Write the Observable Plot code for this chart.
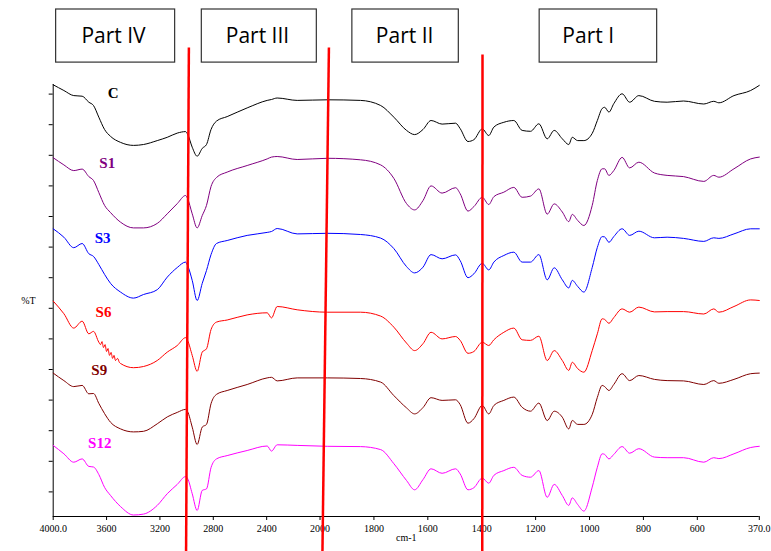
<!DOCTYPE html>
<html><head><meta charset="utf-8">
<script src="https://cdn.jsdelivr.net/npm/d3@7"></script>
<script src="https://cdn.jsdelivr.net/npm/@observablehq/plot@0.6"></script>
<style>html,body{margin:0;padding:0;background:#fff;} #chart svg{display:block}</style>
</head><body><div id="chart"></div>
<script>
// Wavenumber grid (cm-1) shared by all spectra
const wavenumbers = [4000, 3920, 3846, 3783, 3733, 3698, 3658, 3615, 3570, 3495, 3398, 3323, 3220, 3145, 3070, 3008, 2993, 2958, 2921, 2883, 2851, 2817, 2776, 2696, 2546, 2396, 2364, 2321, 2171, 1973, 1850, 1775, 1726, 1679, 1649, 1618, 1588, 1547, 1497, 1480, 1451, 1429, 1398, 1374, 1355, 1318, 1281, 1250, 1219, 1188, 1157, 1131, 1101, 1077, 1064, 1044, 1021, 990, 971, 953, 944, 928, 910, 879, 851, 817, 759, 712, 651, 576, 539, 520, 464, 402, 370];

// %T values (stacked, arbitrary offset units)
const valuesC  = [143.9,142,140.3,140.1,138.1,137,133.1,129,126.7,124.7,123.7,124,125.3,126.4,127.8,128.3,127.5,123.1,120.1,122.7,124,129,131.8,133.3,136.2,138.7,139,139.5,138.7,138.9,138.7,137,133.1,128.7,127.3,129,132,130.8,131.1,129.3,125,125.6,129.2,127,129.8,131.4,132,128.7,128.4,130.9,125.9,128.7,125.9,124,126.4,125.3,125.3,127.7,132,136,136.4,134.8,137.6,140.9,138.1,140.3,138.4,138.1,138.5,137.5,138.4,137.9,140.3,142,143.7];
const valuesS1 = [119.6,117.2,115.3,115.8,113.3,112,108,103.7,101.3,98.1,96.2,96.2,97.7,100.9,104.3,107,106,100.9,96.2,100.3,103.7,110,113,114.8,117,119.2,119.8,120,119,119.4,118.9,117.2,112.7,104.3,102.2,105.3,110.2,107.8,109.6,107.6,101.8,103.3,106.4,104,106.6,108.1,109.7,106.4,106.8,109.2,100.8,104.2,101.5,98.3,100.7,98.7,97,103.7,112,115.9,115.9,113.7,115.3,119.7,116.2,118.1,114.5,113.7,113.3,111.7,113.7,113.1,115.9,119.2,119.8];
const valuesS3 = [95.9,93.1,89.6,91,87.6,86.7,84,80.7,77.7,74.8,72.8,74,75.6,79.8,83,84.8,83.7,78.7,72,77.7,82,87.3,91,92,93.7,94.7,95,96,94.2,94.4,94,92.8,89.3,83.3,81.2,83.1,87.3,85.9,87.2,85.3,79.6,80.9,84.4,82.2,84.8,87,88.1,84.8,84.8,87.3,78.9,82.9,78.9,76.2,78.7,76.7,74.8,83,89.7,93.3,93.2,91.4,93.3,95.9,93.7,95.1,92.9,93.1,92.7,91.7,92.9,92.7,94.2,95.9,95.9];
const valuesS6 = [71.8,67.6,62.8,65.1,60.9,61.7,58.1,55.3,53,51,49.6,50,52,54.8,57,59.6,58.7,53.7,48.4,54.8,55.9,62.3,64.8,65.5,67.2,67.9,66.2,70,68.9,68.1,68.1,66.8,63.1,57.8,55.3,57.6,61.4,59.2,60,58.7,54.4,55,58.1,57,58.9,61.4,62.8,58.9,58.7,60.1,52,55.3,52,48.7,51.4,49.3,48.1,55.3,60.9,65.9,65.7,64.4,66.3,69.2,68.1,69.8,68.2,68.3,68.3,67.5,69.2,68.1,70,72.2,72];
const valuesS9 = [47.8,45.3,43.3,43.7,40.9,41,37.7,34.3,31.4,29.2,28.2,28.4,30.9,33.2,34.7,35.7,35,29.8,24,29.8,30.7,37.6,40.7,42,44,46.2,46.4,45.2,46.2,46.2,46,44.8,40.3,36.2,34.2,36.3,39.6,38.7,38.9,37.3,31.1,32.6,37,34.2,37,38.7,39.8,36.4,35.1,37.8,32,35.1,33.1,29.2,32,30.7,30.7,34,39.7,43.7,43.3,42,44,47.6,45.3,47,45.7,45.3,45.2,44,45.3,44.4,45.7,47.6,47.8];
const valuesS12 = [23.7,20.9,18.1,19.2,16.7,16.5,14,9.7,7,3.3,0.5,0.8,3.7,7.6,10.7,13.3,12.7,7.6,2,8.7,9.2,16.3,19.2,20.3,22,23.5,21.8,23.9,23.7,23.4,23.3,22.3,17.6,12,8.9,12.3,15.9,14.4,15.9,14.2,8.9,9.6,12.8,11.1,13.7,15.3,16.4,13.7,13.1,15.3,6.4,10.7,7,3.7,6.2,4,1.8,9.8,16.4,20.9,20.7,19.2,20.7,23.3,21.1,22.6,19.8,19.6,19.6,18.1,19.6,19.3,20.9,23,23.4];

// extra detail: the noisy O–H shoulder of S6 (read point by point)
const s6NoiseWn  = [3645, 3634, 3623, 3611, 3600, 3589, 3578, 3566, 3555, 3544, 3533, 3518, 3503];
const s6NoiseVal = [57.3, 58.3, 56.3, 57.3, 55, 56, 53.7, 54.7, 52.7, 53.7, 52, 52.7, 51.3];

const seriesNames  = ["C", "S1", "S3", "S6", "S9", "S12"];
const seriesColors = ["#000000", "#800080", "#0000ff", "#ff0000", "#800000", "#ff00ff"];
const seriesValues = [valuesC, valuesS1, valuesS3, valuesS6, valuesS9, valuesS12];

// series labels (wavenumber, value)
const labelWn  = [3550, 3595, 3630, 3623, 3655, 3651];
const labelVal = [141.1, 117.8, 92.9, 68.1, 48.7, 24.6];

// axis ticks
const xTicks = [4000, 3600, 3200, 2800, 2400, 2000, 1800, 1600, 1400, 1200, 1000, 800, 600, 370];
const xTickLabels = ["4000.0", "3600", "3200", "2800", "2400", "2000", "1800", "1600", "1400", "1200", "1000", "800", "600", "370.0"];
const yTicks = [8.2, 18.4, 28.6, 38.8, 49, 59.2, 69.4, 79.6, 89.8, 100, 110.2, 120.4, 130.6, 140.8];

// region dividers (red lines): top/bottom wavenumber and value
const dividerTopWn = [2983, 1967, 1397];
const dividerBottomWn = [3004, 1991, 1398];
const dividerTopVal = [156.3, 156.3, 154];
const dividerBottomVal = [-11.7, -11.7, -11.7];

// part boxes
const partLabels = ["Part IV", "Part III", "Part II", "Part I"];
const partFromWn = [3978, 2886, 1880, 1185];
const partToWn   = [3086, 2024, 1485, 749];
const partTextWn = [3548, 2469, 1686, 1005];
const partTopVal = 169;
const partBottomVal = 151.3;
const partTextVal = 160.2;

// FTIR axis: scale halves above 2000 cm-1
const axisBreak = 2000;
const compress = w => w >= axisBreak ? (4000 - w) / 2 : 1000 + (axisBreak - w) * 1.01;
const tickPositions = xTicks.map(compress);

const data = seriesNames.flatMap((name, i) => {
  let rows = wavenumbers.map((w, j) => ({name, w, v: seriesValues[i][j]}));
  if (name === "S6") {
    const lo = d3.min(s6NoiseWn), hi = d3.max(s6NoiseWn);
    rows = rows.filter(r => r.w < lo || r.w > hi)
      .concat(s6NoiseWn.map((w, j) => ({name, w, v: s6NoiseVal[j]})))
      .sort((a, b) => b.w - a.w);
  }
  return rows;
});

const chart = Plot.plot({
  width: 771, height: 551,
  marginLeft: 52.7, marginRight: 12.2, marginTop: 84, marginBottom: 35,
  style: {fontFamily: "'Liberation Serif', 'Times New Roman', serif", fontSize: "10px", background: "#fff", overflow: "visible", color: "#000"},
  x: {transform: compress},
  y: {domain: [0, 144]},
  color: {domain: seriesNames, range: seriesColors},
  marks: [
    Plot.ruleY([0], {stroke: "#000", strokeWidth: 1}),
    Plot.ruleX([4000], {stroke: "#000", strokeWidth: 1}),
    Plot.axisX({ticks: tickPositions, tickFormat: u => xTickLabels[tickPositions.indexOf(u)], tickSize: 4, tickPadding: 4, label: null, fontSize: 10}),
    Plot.axisY({ticks: yTicks, tickFormat: () => "", tickSize: 4, label: null}),
    Plot.line(data, {x: "w", y: "v", z: "name", stroke: "name", strokeWidth: 1, curve: "monotone-x"}),
    Plot.text(seriesNames, {x: labelWn, y: labelVal, text: d => d, fill: d => d, fontSize: 15, fontWeight: "bold"}),
    Plot.link(dividerTopWn, {x1: dividerTopWn, x2: dividerBottomWn, y1: dividerTopVal, y2: dividerBottomVal, stroke: "#ff0000", strokeWidth: 2.5}),
    Plot.rect(partLabels, {x1: partFromWn, x2: partToWn, y1: partLabels.map(() => partBottomVal), y2: partLabels.map(() => partTopVal), fill: "#fff", stroke: "#333", strokeWidth: 1.2}),
    Plot.text(partLabels, {x: partTextWn, y: partLabels.map(() => partTextVal), text: d => d, fontFamily: "'Open Sans', sans-serif", fontSize: 21, fill: "#000"}),
    Plot.text(["cm-1"], {frameAnchor: "bottom", dy: 24, fontSize: 10}),
    Plot.text(["%T"], {frameAnchor: "left", dx: -32, fontSize: 10})
  ]
});
document.getElementById("chart").appendChild(chart);
</script>
</body></html>
